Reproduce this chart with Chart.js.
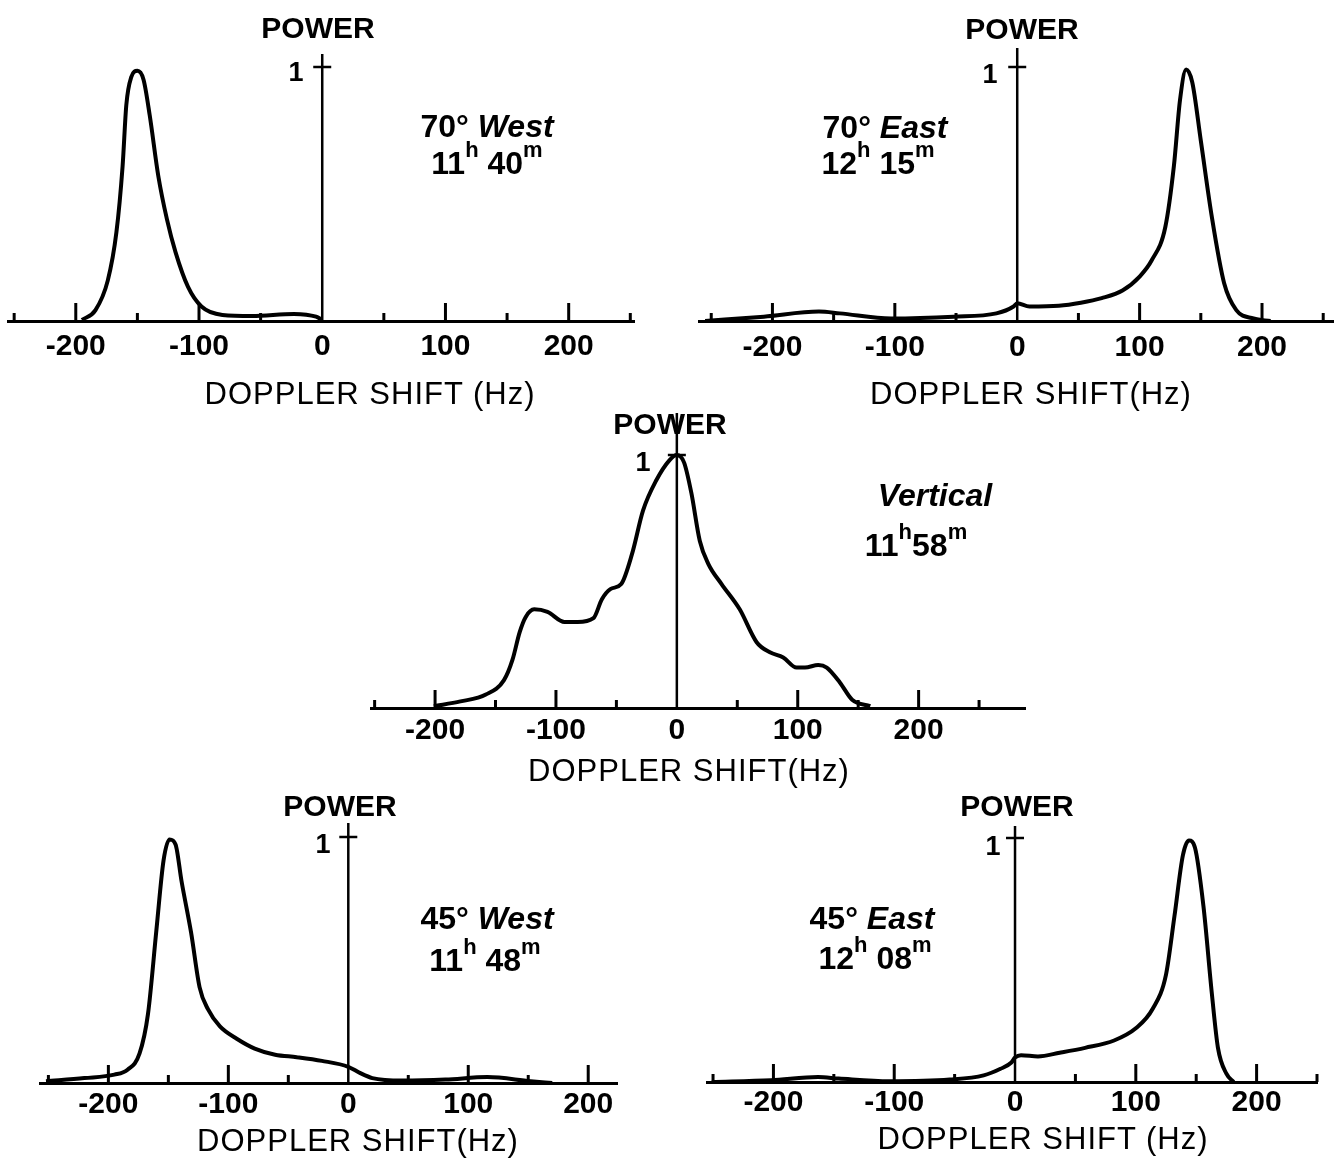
<!DOCTYPE html>
<html><head><meta charset="utf-8">
<script src="https://cdn.jsdelivr.net/npm/chart.js@4.4.1/dist/chart.umd.min.js"></script>
<style>
html,body{margin:0;padding:0;background:#fff;}
#wrap{position:relative;width:1338px;height:1158px;overflow:hidden;background:#fff;}
canvas{position:absolute;left:0;top:0;}
.t{position:absolute;transform:translate(-50%,-50%);white-space:nowrap;font-family:"Liberation Sans",Arial,sans-serif;color:#000;line-height:1;z-index:5;}
.pw{font-size:30px;font-weight:bold;}
.one{font-size:27px;font-weight:bold;}
.ax{font-size:31px;letter-spacing:1px;}
.an{font-size:32px;font-weight:bold;}
.an sup{font-size:22px;vertical-align:top;position:relative;top:-8px;}
</style></head>
<body><div id="wrap">
<canvas id="c1" width="1338" height="1158"></canvas>
<canvas id="c2" width="1338" height="1158"></canvas>
<canvas id="c3" width="1338" height="1158"></canvas>
<canvas id="c4" width="1338" height="1158"></canvas>
<canvas id="c5" width="1338" height="1158"></canvas>

<div class="t pw" style="left:318px;top:28px">POWER</div>
<div class="t pw" style="left:1022px;top:29px">POWER</div>
<div class="t pw" style="left:670px;top:424px">POWER</div>
<div class="t pw" style="left:340px;top:806px">POWER</div>
<div class="t pw" style="left:1017px;top:806px">POWER</div>

<div class="t one" style="left:296px;top:72px">1</div>
<div class="t one" style="left:990px;top:74px">1</div>
<div class="t one" style="left:643px;top:462px">1</div>
<div class="t one" style="left:323px;top:844px">1</div>
<div class="t one" style="left:993px;top:846px">1</div>

<div class="t an" style="left:487px;top:126px">70° <i>West</i></div>
<div class="t an" style="left:487px;top:163px">11<sup>h</sup> 40<sup>m</sup></div>
<div class="t an" style="left:885px;top:127px">70° <i>East</i></div>
<div class="t an" style="left:878px;top:163px">12<sup>h</sup> 15<sup>m</sup></div>
<div class="t an" style="left:935px;top:495px"><i>Vertical</i></div>
<div class="t an" style="left:916px;top:545px">11<sup>h</sup>58<sup>m</sup></div>
<div class="t an" style="left:487px;top:918px">45° <i>West</i></div>
<div class="t an" style="left:485px;top:960px">11<sup>h</sup> 48<sup>m</sup></div>
<div class="t an" style="left:872px;top:918px">45° <i>East</i></div>
<div class="t an" style="left:875px;top:958px">12<sup>h</sup> 08<sup>m</sup></div>

<div class="t ax" style="left:370px;top:393px">DOPPLER SHIFT (Hz)</div>
<div class="t ax" style="left:1031px;top:393px">DOPPLER SHIFT(Hz)</div>
<div class="t ax" style="left:689px;top:770px">DOPPLER SHIFT(Hz)</div>
<div class="t ax" style="left:358px;top:1140px">DOPPLER SHIFT(Hz)</div>
<div class="t ax" style="left:1043px;top:1138px">DOPPLER SHIFT (Hz)</div>
</div>
<script>
// ---- data ----
const tickLabels = [-200, -100, 0, 100, 200];
const majorTicks = [-200, -100, 100, 200];
const minorTicks = [-250, -150, -50, 50, 150, 250];

const west70Hz    = [-195,-184,-174,-167,-162,-159,-155,-150,-145,-140,-133,-126,-119,-109,-98,-81,-57,-23,-5,0];
const west70Power = [0.004,0.043,0.16,0.35,0.61,0.85,0.96,0.985,0.95,0.81,0.57,0.40,0.27,0.135,0.057,0.024,0.02,0.028,0.017,0.004];

const east70Hz    = [-255,-207,-162,-145,-103,-52,-17,-3,0,10,34,52,69,86,100,110,121,128,133,138,143,150,159,169,179,193,207];
const east70Power = [0,0.017,0.037,0.03,0.01,0.017,0.03,0.057,0.07,0.057,0.06,0.072,0.09,0.12,0.175,0.24,0.37,0.61,0.87,0.99,0.94,0.71,0.41,0.15,0.043,0.01,0];

const vertHz    = [-201,-179,-158,-143,-136,-130,-125,-118,-107,-93,-82,-69,-62,-55,-46,-37,-28,-17,-6,0,6,12,19,26,37,52,66,77,88,99,106,117,124,135,145,160];
const vertPower = [0.007,0.026,0.053,0.11,0.19,0.30,0.36,0.39,0.38,0.34,0.34,0.355,0.43,0.47,0.49,0.61,0.78,0.90,0.98,1.0,0.97,0.85,0.66,0.57,0.49,0.39,0.26,0.22,0.20,0.16,0.16,0.17,0.16,0.10,0.033,0.007];

const west45Hz    = [-252,-220,-195,-184,-174,-167,-160,-154,-149,-144,-139,-131,-124,-117,-107,-93,-78,-61,-43,-22,0,10,20,45,81,116,152,170];
const west45Power = [0.007,0.02,0.034,0.054,0.12,0.28,0.62,0.905,0.99,0.97,0.82,0.61,0.39,0.30,0.23,0.18,0.14,0.115,0.105,0.09,0.066,0.04,0.02,0.01,0.014,0.024,0.007,0];

const east45Hz    = [-251,-202,-163,-146,-104,-54,-26,-12,-3,0,5,19,37,58,82,100,114,125,132,139,144,149,156,163,168,175,181];
const east45Power = [0,0.007,0.02,0.014,0.003,0.01,0.027,0.054,0.08,0.1,0.11,0.105,0.12,0.14,0.17,0.22,0.30,0.44,0.68,0.93,0.99,0.96,0.72,0.36,0.14,0.034,0];

// ---- layout ----
const W = 1338, H = 1158, AXH = 50;
const panels = [
  {id:'c1', hz:west70Hz, p:west70Power, min:-255, max:253, L:8,   R:634,  B:321,  one:67,  top:54,  pad:8},
  {id:'c2', hz:east70Hz, p:east70Power, min:-260, max:258, L:699, R:1333, B:321,  one:67,  top:48,  pad:9},
  {id:'c3', hz:vertHz,   p:vertPower,   min:-253, max:288, L:371, R:1025, B:708,  one:455, top:413, pad:5},
  {id:'c4', hz:west45Hz, p:west45Power, min:-257, max:224, L:40,  R:617,  B:1083, one:837, top:823, pad:4},
  {id:'c5', hz:east45Hz, p:east45Power, min:-255, max:250, L:707, R:1317, B:1082, one:838, top:826, pad:3}
];

const axisPlugin = {
  id:'axisPlugin',
  afterDatasetsDraw(chart){
    const {ctx, chartArea, scales:{x, y}} = chart;
    const base = y.getPixelForValue(0);
    const x0 = x.getPixelForValue(0);
    ctx.save();
    ctx.strokeStyle = '#000';
    ctx.lineCap = 'butt';
    ctx.lineWidth = 2.5;
    ctx.beginPath(); ctx.moveTo(x0, base); ctx.lineTo(x0, chartArea.top); ctx.stroke();
    const y1 = y.getPixelForValue(1);
    ctx.beginPath(); ctx.moveTo(x0 - 9, y1); ctx.lineTo(x0 + 9, y1); ctx.stroke();
    ctx.lineWidth = 3;
    majorTicks.forEach(v => {
      if (v < x.min || v > x.max) return;
      const px = x.getPixelForValue(v);
      ctx.beginPath(); ctx.moveTo(px, base); ctx.lineTo(px, base - 18); ctx.stroke();
    });
    minorTicks.forEach(v => {
      if (v < x.min || v > x.max) return;
      const px = x.getPixelForValue(v);
      ctx.beginPath(); ctx.moveTo(px, base); ctx.lineTo(px, base - 8); ctx.stroke();
    });
    ctx.restore();
  }
};

panels.forEach(pn => {
  const ymax = (pn.B - pn.top) / (pn.B - pn.one);
  new Chart(document.getElementById(pn.id), {
    type:'line',
    data:{datasets:[{
      data: pn.hz.map((v, i) => ({x:v, y:pn.p[i]})),
      borderColor:'#000', borderWidth:4, pointRadius:0,
      cubicInterpolationMode:'monotone', fill:false
    }]},
    options:{
      responsive:false, animation:false, events:[],
      layout:{padding:{left:pn.L, right:W - pn.R, top:pn.top, bottom:H - pn.B - AXH}},
      plugins:{legend:{display:false}, tooltip:{enabled:false}, title:{display:false}},
      scales:{
        x:{
          type:'linear', min:pn.min, max:pn.max,
          afterBuildTicks: s => { s.ticks = tickLabels.map(v => ({value:v})); },
          afterFit: s => { s.height = AXH; },
          grid:{display:false, drawTicks:false},
          border:{display:true, color:'#000', width:3},
          ticks:{padding:pn.pad, color:'#000', autoSkip:false, maxRotation:0,
                 font:{family:'"Liberation Sans", Arial, sans-serif', size:30, weight:'bold'},
                 callback: v => String(v)}
        },
        y:{type:'linear', min:0, max:ymax, display:false}
      }
    },
    plugins:[axisPlugin]
  });
});
</script>
</body></html>
